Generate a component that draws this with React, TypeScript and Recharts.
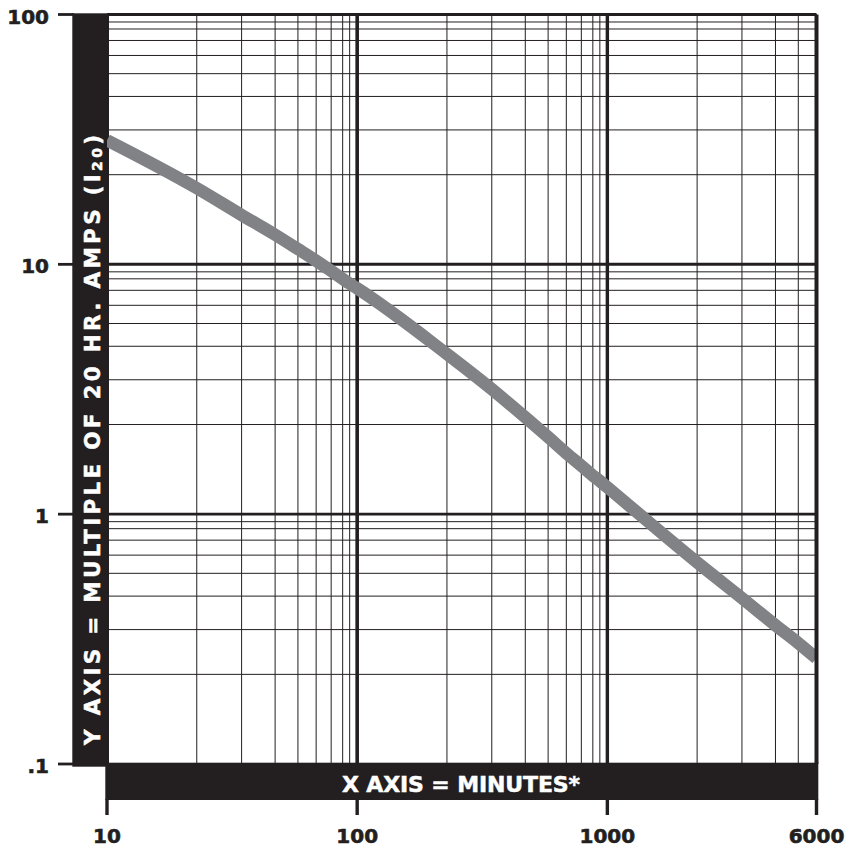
import React from 'react';
import { LineChart, Line, XAxis, YAxis, CartesianGrid, ReferenceLine } from 'recharts';

// ---- data ----
const minutes = [10, 20, 30, 40, 50, 60, 70, 80, 90, 100, 200, 300, 400, 500, 600, 700, 800, 900, 1000, 2000, 3000, 4000, 5000, 6000];
const multiples = [27.7, 18.5, 15.5, 13.3, 11.7, 10.4, 9.12, 8.0, 7.58, 7.17, 3.77, 2.79, 2.16, 1.86, 1.68, 1.54, 1.43, 1.37, 1.30, 0.56, 0.394, 0.313, 0.270, 0.236];

const xMajorTicks = [10, 100, 1000, 6000];
const xMajorLabels = ['10', '100', '1000', '6000'];
const xMinorTicks = [20, 30, 40, 50, 60, 70, 80, 90, 200, 300, 400, 500, 600, 700, 800, 900, 2000, 3000, 4000, 5000];
const yMajorTicks = [0.1, 1, 10, 100];
const yMajorLabels = ['.1', '1', '10', '100'];
const yMinorTicks = [0.2, 0.3, 0.4, 0.5, 0.6, 0.7, 0.8, 0.9, 2, 3, 4, 5, 6, 7, 8, 9, 20, 30, 40, 50, 60, 70, 80, 90];

const xTitle = 'X AXIS = MINUTES*';
const yTitleMain = 'Y AXIS = MULTIPLE OF 20 HR. AMPS (I';
const yTitleSub = '20';
const yTitleEnd = ')';

// ---- the ruling of this (non-standard) log paper: position of mantissa 1..10 inside a decade ----
const PAPER = [0, 89.7, 134.5, 168, 190.8, 209, 224, 235.5, 242.5, 250].map((v) => v / 250);
function toPaper(v: number): number {
  let e = Math.floor(Math.log10(v) + 1e-9);
  let m = v / Math.pow(10, e);
  if (m >= 10 - 1e-9) { e += 1; m /= 10; }
  if (m < 1) m = 1;
  const k = Math.min(Math.floor(m + 1e-9), 9);
  const frac = Math.max(0, m - k);
  return e + PAPER[k - 1] + frac * (PAPER[k] - PAPER[k - 1]);
}

const chartData = minutes.map((m, i) => ({ x: toPaper(m), y: toPaper(multiples[i]), minutes: m, multiple: multiples[i] }));
const xTicks = [...xMajorTicks, ...xMinorTicks].map(toPaper).sort((a, b) => a - b);
const yTicks = [...yMajorTicks, ...yMinorTicks].map(toPaper).sort((a, b) => a - b);

const INK = '#231f20';
const CURVE = '#808285';
const FONT = '"DejaVu Sans", "Liberation Sans", sans-serif';

const near = (a: number, b: number) => Math.abs(a - b) < 1e-6;

const XTick = (props: any) => {
  const { x, payload } = props;
  const idx = xMajorTicks.findIndex((t) => near(toPaper(t), payload.value));
  if (idx < 0) return <g />;
  return (
    <g>
      <line x1={x} x2={x} y1={799} y2={815} stroke={INK} strokeWidth={3.4} />
      <text x={x} y={843} textAnchor="middle" fill={INK} stroke={INK} strokeWidth={0.6} fontFamily={FONT} fontWeight="bold" fontSize={20}>
        {xMajorLabels[idx]}
      </text>
    </g>
  );
};

const YTick = (props: any) => {
  const { y, payload } = props;
  const idx = yMajorTicks.findIndex((t) => near(toPaper(t), payload.value));
  if (idx < 0) return <g />;
  return (
    <g>
      <line x1={58} x2={74} y1={y} y2={y} stroke={INK} strokeWidth={2.8} />
      <text x={49} y={y + 9} textAnchor="end" fill={INK} stroke={INK} strokeWidth={0.6} fontFamily={FONT} fontWeight="bold" fontSize={20}>
        {yMajorLabels[idx]}
      </text>
    </g>
  );
};

const Decorations = () => (
  <g>
    <rect x={72.3} y={13.3} width={36.7} height={753.4} fill={INK} />
    <rect x={105.3} y={762.7} width={713} height={37.3} fill={INK} />
    <text
      transform="translate(99.5, 440) rotate(-90)"
      textAnchor="middle"
      fill="#ffffff"
      stroke="#ffffff"
      strokeWidth={0.5}
      fontFamily={FONT}
      fontWeight="bold"
      fontSize={21.5}
      textLength={610}
      lengthAdjust="spacing"
    >
      {yTitleMain}
      <tspan fontSize={14} dy={2}>{yTitleSub}</tspan>
      <tspan dy={-2}>{yTitleEnd}</tspan>
    </text>
    <text
      x={461}
      y={792}
      textAnchor="middle"
      fill="#ffffff"
      stroke="#ffffff"
      strokeWidth={0.5}
      fontFamily={FONT}
      fontWeight="bold"
      fontSize={22}
      textLength={238}
      lengthAdjust="spacing"
    >
      {xTitle}
    </text>
  </g>
);

export default function App() {
  return (
    <div style={{ position: 'absolute', left: 0, top: 0, width: 845, height: 848, background: '#ffffff' }}>
      <LineChart width={845} height={848} data={chartData} margin={{ top: 14.5, right: 28.5, left: 0, bottom: 0 }}>
        <CartesianGrid stroke={INK} strokeWidth={1} />
        <XAxis
          dataKey="x"
          type="number"
          domain={[toPaper(10), toPaper(6000)]}
          ticks={xTicks}
          interval={0}
          tick={<XTick />}
          tickLine={false}
          axisLine={false}
          height={84}
          allowDataOverflow
        />
        <YAxis
          dataKey="y"
          type="number"
          domain={[toPaper(0.1), toPaper(100)]}
          ticks={yTicks}
          interval={0}
          tick={<YTick />}
          tickLine={false}
          axisLine={false}
          width={107}
          allowDataOverflow
        />
        <ReferenceLine x={toPaper(100)} stroke={INK} strokeWidth={3.6} />
        <ReferenceLine x={toPaper(1000)} stroke={INK} strokeWidth={3.4} />
        <ReferenceLine y={toPaper(10)} stroke={INK} strokeWidth={3} />
        <ReferenceLine y={toPaper(1)} stroke={INK} strokeWidth={2.6} />
        <ReferenceLine y={toPaper(100)} stroke={INK} strokeWidth={3.2} />
        <Line
          dataKey="y"
          type="monotone"
          stroke={CURVE}
          strokeWidth={12.5}
          dot={false}
          activeDot={false}
          isAnimationActive={false}
        />
        <ReferenceLine x={toPaper(6000)} stroke={INK} strokeWidth={4} />
        <Decorations />
      </LineChart>
    </div>
  );
}
